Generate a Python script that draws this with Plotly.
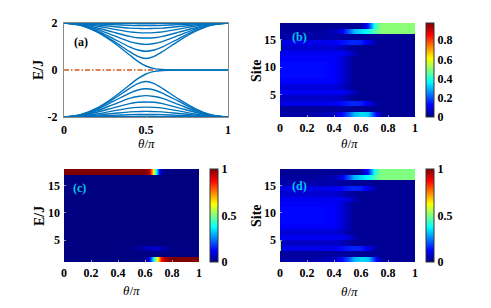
import plotly.graph_objects as go

# ---------------- data: panel (a) energy spectrum ----------------
theta_a = [0, 0.1, 0.2, 0.3, 0.4, 0.45, 0.5, 0.55, 0.6, 0.7, 0.8, 0.9, 1.0]
band_1 = [2.00, 2.00, 1.99, 1.98, 1.98, 1.97, 1.97, 1.97, 1.98, 1.98, 1.99, 2.00, 2.00]
band_2 = [2.00, 1.99, 1.96, 1.93, 1.90, 1.89, 1.89, 1.89, 1.90, 1.93, 1.96, 1.99, 2.00]
band_3 = [2.00, 1.98, 1.92, 1.85, 1.78, 1.77, 1.76, 1.77, 1.78, 1.85, 1.92, 1.98, 2.00]
band_4 = [2.00, 1.96, 1.87, 1.74, 1.62, 1.59, 1.58, 1.59, 1.62, 1.74, 1.87, 1.96, 2.00]
band_5 = [2.00, 1.95, 1.80, 1.61, 1.43, 1.37, 1.36, 1.37, 1.43, 1.61, 1.80, 1.95, 2.00]
band_6 = [2.00, 1.93, 1.74, 1.47, 1.21, 1.13, 1.09, 1.13, 1.21, 1.47, 1.74, 1.93, 2.00]
band_7 = [2.00, 1.92, 1.69, 1.34, 0.98, 0.85, 0.80, 0.85, 0.98, 1.34, 1.69, 1.92, 2.00]
band_8 = [2.00, 1.91, 1.64, 1.24, 0.78, 0.58, 0.49, 0.58, 0.78, 1.24, 1.64, 1.91, 2.00]
edge_band = [2.00, 1.90, 1.62, 1.18, 0.64, 0.37, 0.17, 0.06, 0.02, 0.00, 0.00, 0.00, 0.00]
bands_upper = [band_1, band_2, band_3, band_4, band_5, band_6, band_7, band_8, edge_band]
ref_theta = [0, 0.55]
ref_energy = [0, 0]

# ---------------- data: panel (b) ----------------
sites = list(range(1, 18))
theta_b = [0, 0.01, 0.1, 0.2, 0.3, 0.4, 0.45, 0.5, 0.55, 0.6, 0.65, 0.7, 0.75, 0.8, 0.9, 1.0]
density_b = [
    [0.04, 0.04, 0.04, 0.04, 0.05, 0.06, 0.12, 0.20, 0.30, 0.34, 0.32, 0.15, 0.03, 0.02, 0.02, 0.02],  # 1
    [0.03, 0.03, 0.03, 0.03, 0.03, 0.03, 0.03, 0.03, 0.02, 0.02, 0.02, 0.02, 0.02, 0.02, 0.02, 0.02],  # 2
    [0.10, 0.10, 0.10, 0.10, 0.10, 0.11, 0.13, 0.15, 0.16, 0.15, 0.10, 0.04, 0.02, 0.02, 0.02, 0.02],  # 3
    [0.07, 0.07, 0.07, 0.07, 0.07, 0.07, 0.06, 0.04, 0.02, 0.02, 0.02, 0.02, 0.02, 0.02, 0.02, 0.02],  # 4
    [0.11, 0.11, 0.11, 0.11, 0.11, 0.11, 0.11, 0.09, 0.05, 0.02, 0.02, 0.02, 0.02, 0.02, 0.02, 0.02],  # 5
    [0.09, 0.09, 0.09, 0.09, 0.09, 0.09, 0.07, 0.04, 0.02, 0.02, 0.02, 0.02, 0.02, 0.02, 0.02, 0.02],  # 6
    [0.12, 0.12, 0.12, 0.12, 0.12, 0.12, 0.09, 0.05, 0.02, 0.02, 0.02, 0.02, 0.02, 0.02, 0.02, 0.02],  # 7
    [0.13, 0.13, 0.13, 0.13, 0.13, 0.12, 0.09, 0.05, 0.02, 0.02, 0.02, 0.02, 0.02, 0.02, 0.02, 0.02],  # 8
    [0.13, 0.13, 0.13, 0.13, 0.13, 0.12, 0.09, 0.05, 0.02, 0.02, 0.02, 0.02, 0.02, 0.02, 0.02, 0.02],  # 9
    [0.13, 0.13, 0.13, 0.13, 0.13, 0.12, 0.09, 0.05, 0.02, 0.02, 0.02, 0.02, 0.02, 0.02, 0.02, 0.02],  # 10
    [0.12, 0.12, 0.12, 0.12, 0.12, 0.12, 0.09, 0.05, 0.02, 0.02, 0.02, 0.02, 0.02, 0.02, 0.02, 0.02],  # 11
    [0.11, 0.11, 0.11, 0.11, 0.11, 0.11, 0.11, 0.09, 0.05, 0.02, 0.02, 0.02, 0.02, 0.02, 0.02, 0.02],  # 12
    [0.55, 0.08, 0.08, 0.08, 0.08, 0.08, 0.06, 0.04, 0.02, 0.02, 0.02, 0.02, 0.02, 0.02, 0.02, 0.02],  # 13
    [0.55, 0.10, 0.10, 0.10, 0.10, 0.11, 0.13, 0.15, 0.16, 0.15, 0.10, 0.04, 0.02, 0.02, 0.02, 0.02],  # 14
    [0.04, 0.04, 0.04, 0.04, 0.04, 0.04, 0.03, 0.03, 0.02, 0.02, 0.02, 0.02, 0.02, 0.02, 0.02, 0.02],  # 15
    [0.03, 0.03, 0.03, 0.03, 0.03, 0.05, 0.10, 0.20, 0.30, 0.34, 0.38, 0.45, 0.50, 0.50, 0.50, 0.50],  # 16
    [0.02, 0.02, 0.02, 0.02, 0.02, 0.02, 0.02, 0.02, 0.02, 0.03, 0.15, 0.42, 0.50, 0.50, 0.50, 0.50],  # 17
]

# ---------------- data: panel (c) ----------------
theta_c = [0, 0.2, 0.4, 0.55, 0.6, 0.63, 0.66, 0.68, 0.7, 0.72, 0.75, 0.8, 1.0]
density_c = [[0.0] * 13 for _ in sites]
density_c[0] = [0.0, 0.0, 0.0, 0.0, 0.02, 0.10, 0.35, 0.55, 0.72, 0.86, 0.97, 1.0, 1.0]    # site 1
density_c[2] = [0.0, 0.0, 0.0, 0.02, 0.05, 0.06, 0.07, 0.07, 0.06, 0.05, 0.03, 0.01, 0.0]  # site 3
density_c[16] = [1.0, 1.0, 1.0, 1.0, 1.0, 0.95, 0.65, 0.38, 0.14, 0.04, 0.01, 0.0, 0.0]    # site 17

# ---------------- data: panel (d) ----------------
theta_d = theta_b
density_d = [row[:] for row in density_b]
density_d[12][0] = 0.08
density_d[13][0] = 0.10
density_d[2][0] = 0.55
density_d[3][0] = 0.55

tick_theta_a = [0, 0.5, 1]
tick_theta_map = [0, 0.2, 0.4, 0.6, 0.8, 1]
tick_energy = [-2, 0, 2]
tick_site = [5, 10, 15]

# ---------------- figure ----------------
W, H = 491, 308
BLUE = "#0072BD"
ORANGE = "#D95319"
LABEL_CYAN = "rgb(0,200,235)"
SERIF = "Liberation Serif"

jet = [[0.0, "rgb(0,0,128)"], [0.125, "rgb(0,0,255)"], [0.375, "rgb(0,255,255)"],
       [0.625, "rgb(255,255,0)"], [0.875, "rgb(255,0,0)"], [1.0, "rgb(128,0,0)"]]


def fx(p):
    return p / W


def fy(p):
    return 1 - p / H


def expand(rows):
    yy, zz = [], []
    for s, r in zip(sites, rows):
        yy += [s + 0.03, s + 0.97]
        zz += [r, r]
    return yy, zz


fig = go.Figure()

for band in bands_upper:
    fig.add_trace(go.Scatter(x=theta_a, y=band, mode="lines", line=dict(color=BLUE, width=1.4, shape="spline", smoothing=0.8),
                             xaxis="x", yaxis="y", hoverinfo="skip"))
    fig.add_trace(go.Scatter(x=theta_a, y=[-v for v in band], mode="lines", line=dict(color=BLUE, width=1.4, shape="spline", smoothing=0.8),
                             xaxis="x", yaxis="y", hoverinfo="skip"))
fig.add_trace(go.Scatter(x=ref_theta, y=ref_energy, mode="lines", line=dict(color=ORANGE, width=1.4, dash="5px,2px,1.5px,2px"),
                         xaxis="x", yaxis="y", hoverinfo="skip"))

tickfont = dict(family=SERIF, size=12, color="black", weight="bold")


def cbar(x0, y0, y1, vals):
    return dict(x=fx(x0), xanchor="left", xref="paper", y=(fy(y0) + fy(y1)) / 2, yanchor="middle", yref="paper",
                len=(y1 - y0) / H, lenmode="fraction", thickness=8, thicknessmode="pixels",
                xpad=0, ypad=0, outlinewidth=1, outlinecolor="#333333",
                tickvals=vals, ticks="", tickfont=tickfont, ticklabelposition="outside")


yb, zb = expand(density_b)
fig.add_trace(go.Heatmap(x=theta_b, y=yb, z=zb, zsmooth="best", colorscale=jet, zmin=0, zmax=0.98,
                         xaxis="x2", yaxis="y2", colorbar=cbar(426, 23, 117, [0, 0.2, 0.4, 0.6, 0.8]), hoverinfo="skip"))
yc, zc = expand(density_c)
fig.add_trace(go.Heatmap(x=theta_c, y=yc, z=zc, zsmooth="best", colorscale=jet, zmin=0, zmax=1,
                         xaxis="x3", yaxis="y3", colorbar=cbar(210, 169, 262, [0, 0.5, 1]), hoverinfo="skip"))
yd, zd = expand(density_d)
fig.add_trace(go.Heatmap(x=theta_d, y=yd, z=zd, zsmooth="best", colorscale=jet, zmin=0, zmax=1,
                         xaxis="x4", yaxis="y4", colorbar=cbar(426, 169, 262, [0, 0.5, 1]), hoverinfo="skip"))


def xax(x0, x1, anchor, vals, texts, line):
    return dict(domain=[fx(x0), fx(x1)], range=[0, 1], anchor=anchor, tickvals=vals, ticktext=texts,
                tickfont=tickfont, ticks="inside", ticklen=2, tickcolor="#999999", ticklabelstandoff=2,
                showgrid=False, zeroline=False, showline=line, linecolor="#8a8a8a", linewidth=1, mirror=line,
                automargin=False)


def yax(y0, y1, anchor, rng, vals, texts, line):
    return dict(domain=[fy(y1), fy(y0)], range=rng, anchor=anchor, tickvals=vals, ticktext=texts,
                tickfont=tickfont, ticks="inside", ticklen=2, tickcolor="#999999", ticklabelstandoff=3,
                showgrid=False, zeroline=False, showline=line, linecolor="#8a8a8a", linewidth=1, mirror=line,
                automargin=False)


fmt = lambda v: ("%g" % v)
fig.update_layout(
    template="none",
    width=W, height=H, autosize=False, margin=dict(l=0, r=0, t=0, b=0, pad=0),
    paper_bgcolor="white", plot_bgcolor="white", showlegend=False,
    xaxis=xax(64, 228, "y", tick_theta_a, [fmt(v) for v in tick_theta_a], True),
    yaxis=yax(23, 117, "x", [-2, 2], tick_energy, [fmt(v) for v in tick_energy], True),
    xaxis2=xax(280, 415, "y2", tick_theta_map, [fmt(v) for v in tick_theta_map], False),
    yaxis2=yax(23, 117, "x2", [1, 18], tick_site, [fmt(v) for v in tick_site], False),
    xaxis3=xax(64, 199, "y3", tick_theta_map, [fmt(v) for v in tick_theta_map], False),
    yaxis3=yax(169, 262, "x3", [1, 18], tick_site, [fmt(v) for v in tick_site], False),
    xaxis4=xax(280, 415, "y4", tick_theta_map, [fmt(v) for v in tick_theta_map], False),
    yaxis4=yax(169, 262, "x4", [1, 18], tick_site, [fmt(v) for v in tick_site], False),
)

title_font = dict(family=SERIF, size=14, color="black", weight="bold")
theta_font = dict(family=SERIF, size=13, color="black")
ann = []


def add_text(x, y, text, font, angle=0):
    ann.append(dict(x=fx(x), y=fy(y), xref="paper", yref="paper", text=text, showarrow=False,
                    font=font, textangle=angle, xanchor="center", yanchor="middle", borderpad=0))


add_text(38, 70, "E/J", title_font, -90)
add_text(146, 144, "<i>θ</i>/<i>π</i>", theta_font)
add_text(256, 70, "Site", title_font, -90)
add_text(349, 144, "<i>θ</i>/<i>π</i>", theta_font)
add_text(39, 216, "E/J", title_font, -90)
add_text(131, 290, "<i>θ</i>/<i>π</i>", theta_font)
add_text(256, 215, "Site", title_font, -90)
add_text(349, 291, "<i>θ</i>/<i>π</i>", theta_font)

panel_font = dict(family=SERIF, size=12, weight="bold")
add_text(81, 42, "(a)", dict(panel_font, color="black"))
add_text(299, 37, "(b)", dict(panel_font, color=LABEL_CYAN))
add_text(79, 188, "(c)", dict(panel_font, color=LABEL_CYAN))
add_text(299, 186, "(d)", dict(panel_font, color=LABEL_CYAN))

fig.update_layout(annotations=ann)
fig.write_html("out.html", config={"displayModeBar": False, "staticPlot": True},
               post_script="document.body.style.margin='0';document.body.style.padding='0';")
